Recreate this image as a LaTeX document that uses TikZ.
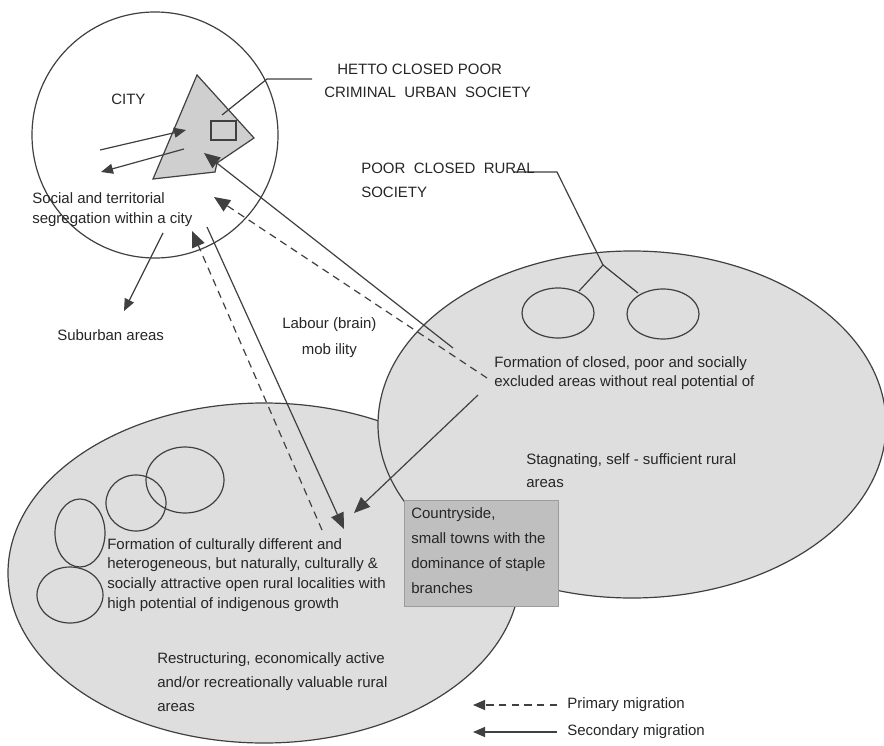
\documentclass[tikz,border=0pt]{standalone}
\usepackage{fontspec}
\setmainfont{Liberation Sans}
\usetikzlibrary{arrows.meta}
\definecolor{ln}{HTML}{404040}
\definecolor{tx}{HTML}{262626}
\definecolor{zone}{HTML}{DEDEDE}
\definecolor{boxc}{HTML}{BFBFBF}
\definecolor{boxl}{HTML}{9C9C9C}
\begin{document}
\begin{tikzpicture}[x=0.75pt,y=-0.75pt,
  ln/.style={draw=ln, line width=0.9pt},
  arr/.style={ln, -{Triangle[length=12pt,width=10pt]}},
  sarr/.style={ln, -{Triangle[length=9pt,width=7.5pt]}},
  dashline/.style={dash pattern=on 5.5pt off 4pt},
  lbl/.style={text=tx, inner sep=0pt, anchor=north west, align=left},
]
\useasboundingbox (0,0) rectangle (884,745);
\fill[white] (0,0) rectangle (884,745);

% zones
\draw[ln, fill=zone] (264,573) ellipse [x radius=256, y radius=170];
\draw[ln, fill=zone] (632,424.5) ellipse [x radius=254, y radius=173.5];

% localities in the left zone
\draw[ln] (185,480) ellipse [x radius=39, y radius=33];
\draw[ln] (136,503) ellipse [x radius=30, y radius=28];
\draw[ln] (80,533) ellipse [x radius=25, y radius=34];
\draw[ln] (70,595) ellipse [x radius=33, y radius=28];

% closed rural localities
\draw[ln] (558,313) ellipse [x radius=36, y radius=25];
\draw[ln] (663,314) ellipse [x radius=36, y radius=25];
\coordinate (pj) at (603,265);
\coordinate (pl) at (579,291);
\coordinate (pr) at (638,293);
\coordinate (pk) at (557,172);
\coordinate (pe) at (513,172);
\draw[ln] (pl) -- (pj) -- (pr);
\draw[ln] (pj) -- (pk) -- (pe);

% countryside box
\node[draw=boxl, fill=boxc, line width=0.8pt, minimum width=154*0.75pt, minimum height=106*0.75pt, inner sep=0pt, anchor=north west] (box) at (404,500) {};
\node[lbl, font=\fontsize{11.25}{18.75}\selectfont] (boxt) at (411,507) {Countryside,\\small towns with the\\dominance of staple\\branches};

% city
\draw[ln] (155,135) circle [radius=123];
\draw[ln, fill=boxc!75!white] (197,75) -- (254,138) -- (217,163) -- (215,172) -- (153,179) -- cycle;
\draw[ln] (211,121) rectangle (236,140);
\coordinate (gs) at (222,115);
\coordinate (gk) at (267,79);
\coordinate (ge) at (312,79);
\draw[ln] (gs) -- (gk) -- (ge);

% arrows inside the city
\coordinate (a1s) at (100,150); \coordinate (a1e) at (186,130);
\coordinate (a2s) at (184,149); \coordinate (a2e) at (101,172);
\draw[sarr] (a1s) -- (a1e);
\draw[sarr] (a2s) -- (a2e);
\coordinate (subs) at (163,233); \coordinate (sube) at (124,311);
\draw[sarr] (subs) -- (sube);

% migration arrows
\coordinate (m1s) at (453,348); \coordinate (m1e) at (204,153);
\draw[arr] (m1s) -- (m1e);
\coordinate (m2s) at (487,378); \coordinate (m2e) at (214,197);
\draw[arr, dashline] (m2s) -- (m2e);
\coordinate (m3s) at (207,227); \coordinate (m3e) at (344,529);
\draw[arr] (m3s) -- (m3e);
\coordinate (m4s) at (322,530); \coordinate (m4e) at (192,231);
\draw[arr, dashline] (m4s) -- (m4e);
\coordinate (m5s) at (478,395); \coordinate (m5e) at (354,513);
\draw[arr] (m5s) -- (m5e);

% texts
\node[lbl, font=\fontsize{11.25}{15}\selectfont] (city) at (111,94) {CITY};
\node[lbl, font=\fontsize{11.25}{17.25}\selectfont] (hetto) at (324,64) {\hspace*{9.75pt}HETTO CLOSED POOR\\CRIMINAL\ \ URBAN\ \ SOCIETY};
\node[lbl, font=\fontsize{11.25}{18}\selectfont] (poor) at (361,163) {POOR\ \ CLOSED\ \ RURAL\\SOCIETY};
\node[lbl, font=\fontsize{11.25}{15}\selectfont] (seg) at (32,192) {Social and territorial\\segregation within a city};
\node[lbl, font=\fontsize{11.25}{15}\selectfont] (sub) at (57,329) {Suburban areas};
\node[lbl, font=\fontsize{11.25}{19.5}\selectfont, align=center] (lab) at (282,317) {Labour (brain)\\mob ility};
\node[lbl, font=\fontsize{11.25}{14.25}\selectfont] (fcl) at (494,356) {Formation of closed, poor and socially\\excluded areas without real potential of};
\node[lbl, font=\fontsize{11.25}{17.25}\selectfont] (stag) at (526,453) {Stagnating, self - sufficient rural\\areas};
\node[lbl, font=\fontsize{11.25}{14.75}\selectfont] (fcu) at (107,538) {Formation of culturally different and\\heterogeneous, but naturally, culturally \&\\socially attractive open rural localities with\\high potential of indigenous growth};
\node[lbl, font=\fontsize{11.25}{18}\selectfont] (rest) at (157,652) {Restructuring, economically active\\and/or recreationally valuable rural\\areas};

% legend
\coordinate (l1s) at (557,705); \coordinate (l1e) at (473,705);
\coordinate (l2s) at (557,732); \coordinate (l2e) at (473,732);
\draw[sarr, dashline] (l1s) -- (l1e);
\draw[sarr] (l2s) -- (l2e);
\node[lbl, font=\fontsize{11.25}{15}\selectfont, anchor=west] (lg1) at (567,705) {Primary migration};
\node[lbl, font=\fontsize{11.25}{15}\selectfont, anchor=west] (lg2) at (567,732) {Secondary migration};
\end{tikzpicture}
\end{document}
